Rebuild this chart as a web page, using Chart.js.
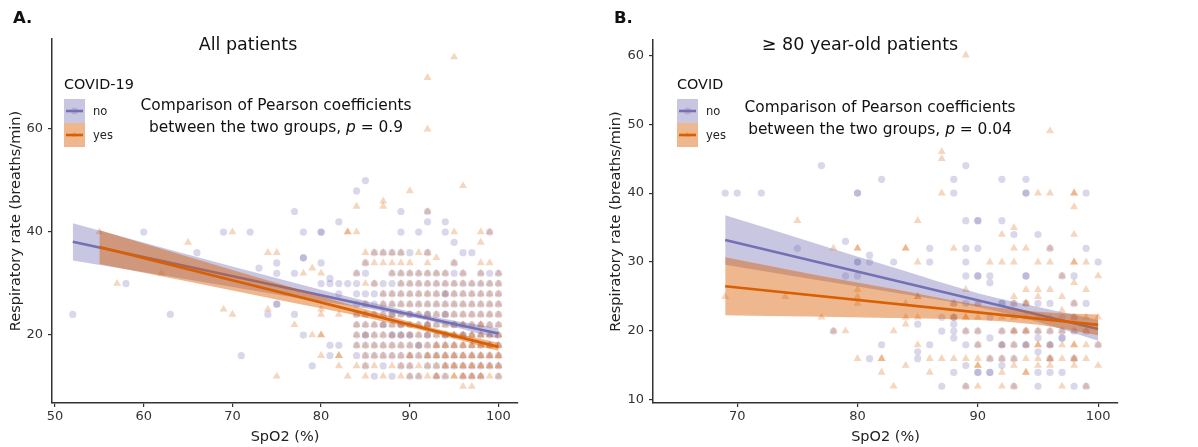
<!DOCTYPE html>
<html>
<head>
<meta charset="utf-8">
<script src="https://cdn.jsdelivr.net/npm/chart.js@4.4.1/dist/chart.umd.min.js"></script>
<style>
  html, body { margin: 0; padding: 0; background: #fff; }
  #wrap { position: relative; width: 1198px; height: 447px; }
  canvas { position: absolute; top: 0; }
  #chartA { left: 0; }
  #chartB { left: 600px; }
</style>
</head>
<body>
<div id="wrap">
  <canvas id="chartA" width="600" height="447"></canvas>
  <canvas id="chartB" width="598" height="447"></canvas>
</div>
<script>
// ---- data: [SpO2, [respiratory rates at that SpO2]] ----
const noColsA = [
  [52, [24]], [58, [30]], [60, [40]], [63, [24]], [66, [36]], [69, [40]], [71, [16]],
  [72, [40]], [73, [33]], [74, [24]], [75, [26, 26, 32, 34]], [77, [24, 32, 44]],
  [78, [20, 35, 35, 40]], [79, [14]], [80, [30, 34, 40, 40]], [81, [16, 18, 30, 31]],
  [82, [18, 28, 30, 42]], [83, [30]],
  [84, [16, 18, 20, 22, 24, 26, 28, 30, 32, 48]],
  [85, [14, 16, 18, 20, 20, 22, 24, 26, 28, 32, 34, 50]],
  [86, [12, 16, 18, 20, 22, 24, 26, 28, 30, 36]],
  [87, [14, 16, 18, 20, 22, 22, 24, 26, 28, 30, 36]],
  [88, [12, 16, 18, 20, 20, 22, 24, 24, 26, 28, 30, 32, 36]],
  [89, [14, 16, 18, 20, 20, 22, 22, 24, 26, 28, 30, 32, 36, 40, 44]],
  [90, [12, 14, 16, 18, 20, 20, 22, 24, 24, 26, 28, 30, 32, 36]],
  [91, [12, 16, 18, 18, 20, 22, 24, 26, 28, 30, 32, 40]],
  [92, [14, 16, 18, 20, 20, 22, 22, 24, 24, 26, 28, 30, 32, 36, 42, 44]],
  [93, [12, 14, 16, 18, 20, 22, 24, 26, 28, 30, 32]],
  [94, [12, 14, 16, 18, 20, 20, 22, 24, 24, 26, 28, 28, 30, 32, 40, 42]],
  [95, [14, 16, 18, 20, 22, 22, 24, 26, 28, 30, 32, 34, 38]],
  [96, [12, 14, 16, 18, 20, 20, 22, 24, 26, 28, 30, 32, 36]],
  [97, [12, 14, 16, 18, 20, 22, 24, 26, 28, 30, 36]],
  [98, [12, 14, 16, 18, 20, 22, 24, 26, 28, 30, 32]],
  [99, [14, 16, 18, 20, 22, 24, 26, 28, 30, 32, 40]],
  [100, [12, 14, 16, 18, 20, 22, 24, 26, 28, 30, 32]]
];
const yesColsA = [
  [55, [40]], [57, [30]], [62, [32]], [65, [38]], [69, [25]], [70, [24, 40]],
  [74, [25, 36]], [75, [12, 36]], [77, [22]], [78, [32]], [79, [20, 33]],
  [80, [16, 20, 20, 24, 25, 32]], [82, [14, 16, 16, 24]], [83, [12, 40, 40]],
  [84, [14, 18, 20, 22, 24, 32, 40, 45]],
  [85, [12, 14, 16, 18, 20, 22, 24, 26, 30, 34, 36]],
  [86, [14, 16, 18, 20, 22, 24, 30, 34, 36]],
  [87, [12, 16, 18, 20, 22, 24, 26, 28, 34, 36, 45, 46]],
  [88, [14, 16, 18, 20, 22, 24, 26, 28, 32, 34, 36]],
  [89, [12, 14, 16, 18, 20, 22, 24, 26, 28, 30, 32, 34, 36]],
  [90, [12, 14, 16, 16, 18, 20, 22, 24, 26, 28, 30, 32, 34, 48]],
  [91, [12, 14, 16, 18, 20, 22, 24, 26, 28, 30, 32, 36]],
  [92, [12, 14, 16, 16, 18, 20, 22, 22, 24, 26, 28, 30, 32, 34, 36, 44, 60, 70]],
  [93, [12, 12, 14, 16, 16, 18, 18, 20, 22, 24, 26, 28, 30, 32, 35]],
  [94, [12, 14, 14, 16, 16, 18, 18, 20, 20, 22, 24, 26, 28, 30, 32]],
  [95, [12, 12, 14, 14, 16, 16, 18, 18, 20, 20, 22, 24, 26, 28, 30, 34, 40, 74]],
  [96, [10, 12, 12, 14, 14, 16, 16, 18, 18, 20, 20, 22, 22, 24, 26, 28, 30, 32, 49]],
  [97, [10, 12, 12, 14, 14, 16, 16, 18, 18, 20, 20, 22, 24, 26, 28, 30]],
  [98, [12, 12, 14, 14, 16, 16, 18, 18, 20, 20, 22, 22, 24, 26, 28, 30, 32, 34, 38, 40]],
  [99, [12, 14, 14, 16, 16, 18, 18, 20, 20, 22, 24, 26, 28, 30, 34, 40]],
  [100, [12, 14, 14, 16, 16, 18, 18, 20, 20, 22, 24, 26, 28, 30, 32]]
];
const noColsB = [
  [69, [40]], [70, [40]], [72, [40]], [75, [32]], [77, [44]], [78, [20]], [79, [28, 33]],
  [80, [28, 30, 30, 40, 40]], [81, [16, 30, 31]], [82, [18, 42]], [83, [30]],
  [85, [16, 17, 21]], [86, [18, 30, 32]], [87, [12, 20, 22]],
  [88, [14, 19, 20, 21, 22, 22, 24, 40, 42]],
  [89, [12, 15, 18, 20, 24, 28, 30, 32, 36, 44]],
  [90, [14, 14, 18, 20, 24, 28, 28, 32, 36, 36]],
  [91, [14, 14, 16, 19, 22, 27, 28]],
  [92, [15, 16, 18, 18, 20, 24, 24, 36, 42]],
  [93, [12, 16, 18, 20, 24, 34]],
  [94, [18, 18, 20, 24, 28, 28, 40, 40, 42]],
  [95, [12, 14, 17, 19, 20, 24, 34]],
  [96, [14, 16, 18, 18, 20, 24, 32]],
  [97, [14, 19, 19, 20, 22, 28]],
  [98, [12, 16, 20, 22, 24, 28]],
  [99, [12, 20, 24, 32, 40]],
  [100, [18, 30]]
];
const yesColsB = [
  [69, [25]], [74, [25]], [75, [36]], [77, [22]], [78, [20, 32]], [79, [20]],
  [80, [16, 24, 25, 26, 32, 32]], [82, [14, 16, 16]], [83, [12, 20]],
  [84, [15, 21, 22, 24, 32, 32]], [85, [18, 22, 25, 25, 30, 36]], [86, [14, 16]],
  [87, [16, 40, 45, 46]], [88, [16, 22, 24, 32]], [89, [12, 16, 20, 22, 22, 26, 60]],
  [90, [12, 15, 15, 16, 18, 20, 22, 24]], [91, [16, 30]],
  [92, [12, 14, 16, 18, 20, 22, 30, 34]],
  [93, [12, 15, 16, 18, 20, 20, 22, 24, 25, 30, 32, 35]],
  [94, [14, 14, 16, 18, 20, 20, 22, 24, 24, 26, 32]],
  [95, [15, 16, 18, 18, 20, 22, 25, 26, 30, 40]],
  [96, [15, 16, 16, 18, 20, 22, 26, 30, 32, 40, 49]],
  [97, [12, 16, 18, 20, 23, 25, 28]],
  [98, [15, 16, 16, 18, 18, 20, 22, 24, 27, 30, 30, 34, 38, 40, 40]],
  [99, [12, 16, 18, 20, 22, 26, 30]],
  [100, [15, 18, 22, 28]]
];

// fitted lines (start, end) and confidence bands
const fitNoA = [[52, 38.1], [100, 20.3]];
const fitYesA = [[55, 37.1], [100, 17.7]];
const bandXNoA = [52, 64, 76, 85, 92, 100];
const bandUpNoA = [41.7, 36.1, 30.6, 26.6, 23.8, 21.3];
const bandLoNoA = [34.5, 31.1, 27.6, 25.2, 22.8, 19.3];
const bandXYesA = [55, 65, 75, 85, 93, 100];
const bandUpYesA = [40.4, 35.2, 30.1, 25.0, 21.2, 18.5];
const bandLoYesA = [33.8, 30.4, 26.9, 23.4, 20.2, 16.9];

const fitNoB = [[69, 33.2], [100, 20.3]];
const fitYesB = [[69, 26.5], [100, 20.9]];
const bandXB = [69, 76, 83, 90, 95, 100];
const bandUpNoB = [36.8, 33.0, 29.2, 25.5, 23.5, 21.6];
const bandLoNoB = [29.6, 27.6, 25.6, 23.5, 21.3, 18.6];
const bandUpYesB = [30.7, 28.3, 26.1, 23.8, 22.8, 22.4];
const bandLoYesB = [22.3, 22.1, 21.9, 21.6, 20.9, 19.4];

const xTicksA = [50, 60, 70, 80, 90, 100];
const yTicksA = [20, 40, 60];
const xTicksB = [70, 80, 90, 100];
const yTicksB = [10, 20, 30, 40, 50, 60];

const PURPLE = '#7570B3';
const ORANGE = '#D95F02';
const PURPLE_BAND = 'rgba(117,112,179,0.4)';
const ORANGE_BAND = 'rgba(217,95,2,0.45)';
const PURPLE_PT = 'rgba(117,112,179,0.28)';
const ORANGE_PT = 'rgba(217,95,2,0.26)';
const FONT = '"DejaVu Sans", "Liberation Sans", sans-serif';

Chart.defaults.font.family = FONT;

const toPoints = cols => cols.flatMap(([x, ys]) => ys.map(y => ({ x, y })));
const zip = (xs, ys) => xs.map((x, i) => ({ x, y: ys[i] }));
const pairs = arr => arr.map(([x, y]) => ({ x, y }));

function drawAnnotation(ctx, cx, y1, y2, pval) {
    ctx.textAlign = 'left';
    const f = '15.4px ' + FONT;
    const fi = 'italic 15.4px ' + FONT;
    ctx.font = f;
    const l1 = 'Comparison of Pearson coefficients';
    ctx.fillText(l1, cx - ctx.measureText(l1).width / 2, y1);
    const a = 'between the two groups, ';
    const b = ' = ' + pval;
    const wa = ctx.measureText(a).width;
    const wb = ctx.measureText(b).width;
    ctx.font = fi;
    const wp = ctx.measureText('p').width;
    let x = cx - (wa + wp + wb) / 2;
    ctx.font = f;
    ctx.fillText(a, x, y2);
    ctx.font = fi;
    ctx.fillText('p', x + wa, y2);
    ctx.font = f;
    ctx.fillText(b, x + wa + wp, y2);
}

const overlay = {
    id: 'overlay',
    afterDraw(chart, args, o) {
        const ctx = chart.ctx;
        ctx.save();
        ctx.fillStyle = '#111';
        ctx.textBaseline = 'middle';
        ctx.textAlign = 'left';
        ctx.font = 'bold 16.5px ' + FONT;
        ctx.fillText(o.tag, o.tagX, 19);
        ctx.textAlign = 'center';
        ctx.font = '17.5px ' + FONT;
        ctx.fillText(o.title, o.titleX, 45);

        // legend
        const lx = o.legendX;
        ctx.textAlign = 'left';
        ctx.font = '14.4px ' + FONT;
        ctx.fillText(o.legendTitle, lx, 85);
        const keys = [
            { y: 99, band: PURPLE_BAND, line: PURPLE, pt: PURPLE_PT, label: 'no', shape: 'circle' },
            { y: 123, band: ORANGE_BAND, line: ORANGE, pt: ORANGE_PT, label: 'yes', shape: 'triangle' }
        ];
        keys.forEach(k => {
            ctx.fillStyle = k.band;
            ctx.fillRect(lx, k.y, 21, 24);
            ctx.fillStyle = k.pt;
            Chart.helpers.drawPoint(ctx, { pointStyle: k.shape, radius: 3.5, borderWidth: 0 }, lx + 10.5, k.y + 12);
            ctx.strokeStyle = k.line;
            ctx.lineWidth = 2.6;
            ctx.beginPath();
            ctx.moveTo(lx + 2, k.y + 12);
            ctx.lineTo(lx + 19, k.y + 12);
            ctx.stroke();
            ctx.fillStyle = '#222';
            ctx.font = '11.5px ' + FONT;
            ctx.fillText(k.label, lx + 29, k.y + 13);
        });

        ctx.fillStyle = '#111';
        drawAnnotation(ctx, o.annX, o.annY, o.annY + 22, o.p);
        ctx.restore();
    }
};

function scaleOpts(axis, min, max, ticks, title, fit) {
    return {
        type: 'linear',
        min: min,
        max: max,
        afterBuildTicks: s => { s.ticks = ticks.map(v => ({ value: v })); },
        afterFit: fit,
        grid: { drawOnChartArea: false, drawTicks: true, tickLength: 4, color: '#333', lineWidth: 1.2 },
        border: { display: true, color: '#333', width: 1.5 },
        ticks: { color: '#333', font: { size: 13 }, padding: axis === 'y' ? 5 : 2, maxRotation: 0 },
        title: {
            display: true, text: title, color: '#222', font: { size: 14.5 },
            padding: axis === 'y' ? { top: 8, bottom: 0 } : { top: 0, bottom: 0 }
        }
    };
}

function makePanel(canvas, p) {
    const datasets = [
        { data: toPoints(p.no), showLine: false, pointStyle: 'circle', pointRadius: 3.6,
          pointBackgroundColor: PURPLE_PT, pointBorderWidth: 0, borderWidth: 0, order: 10 },
        { data: toPoints(p.yes), showLine: false, pointStyle: 'triangle', pointRadius: 4.6,
          pointBackgroundColor: ORANGE_PT, pointBorderWidth: 0, borderWidth: 0, order: 9 },
        { data: zip(p.bandXNo, p.bandUpNo), fill: '+1', backgroundColor: PURPLE_BAND,
          borderWidth: 0, pointRadius: 0, cubicInterpolationMode: 'monotone', order: 6 },
        { data: zip(p.bandXNo, p.bandLoNo), fill: false, borderWidth: 0, pointRadius: 0,
          cubicInterpolationMode: 'monotone', order: 6 },
        { data: pairs(p.fitNo), borderColor: PURPLE, borderWidth: 2.6, pointRadius: 0, fill: false, order: 5 },
        { data: zip(p.bandXYes, p.bandUpYes), fill: '+1', backgroundColor: ORANGE_BAND,
          borderWidth: 0, pointRadius: 0, cubicInterpolationMode: 'monotone', order: 4 },
        { data: zip(p.bandXYes, p.bandLoYes), fill: false, borderWidth: 0, pointRadius: 0,
          cubicInterpolationMode: 'monotone', order: 4 },
        { data: pairs(p.fitYes), borderColor: ORANGE, borderWidth: 2.6, pointRadius: 0, fill: false, order: 3 }
    ];
    return new Chart(canvas, {
        type: 'line',
        data: { datasets },
        plugins: [overlay],
        options: {
            responsive: false,
            animation: false,
            events: [],
            layout: { padding: { left: 0, right: p.padRight, top: p.padTop, bottom: 1 } },
            plugins: { legend: { display: false }, tooltip: { enabled: false }, overlay: p.overlay },
            scales: {
                x: scaleOpts('x', p.xMin, p.xMax, p.xTicks, 'SpO2 (%)', s => { s.height = 43; }),
                y: scaleOpts('y', p.yMin, p.yMax, p.yTicks, 'Respiratory rate (breaths/min)', s => { s.width = p.yWidth; })
            }
        }
    });
}

makePanel(document.getElementById('chartA'), {
    no: noColsA, yes: yesColsA,
    fitNo: fitNoA, fitYes: fitYesA,
    bandXNo: bandXNoA, bandUpNo: bandUpNoA, bandLoNo: bandLoNoA,
    bandXYes: bandXYesA, bandUpYes: bandUpYesA, bandLoYes: bandLoYesA,
    xMin: 49.66, xMax: 102.2, yMin: 6.8, yMax: 77.5,
    xTicks: xTicksA, yTicks: yTicksA,
    padRight: 82, padTop: 39, yWidth: 52,
    overlay: { tag: 'A.', tagX: 13, title: 'All patients', titleX: 248, legendTitle: 'COVID-19',
               legendX: 64, annX: 276, annY: 106, p: '0.9' }
});

makePanel(document.getElementById('chartB'), {
    no: noColsB, yes: yesColsB,
    fitNo: fitNoB, fitYes: fitYesB,
    bandXNo: bandXB, bandUpNo: bandUpNoB, bandLoNo: bandLoNoB,
    bandXYes: bandXB, bandUpYes: bandUpYesB, bandLoYes: bandLoYesB,
    xMin: 63.0, xMax: 101.65, yMin: 9.57, yMax: 62.2,
    xTicks: xTicksB, yTicks: yTicksB,
    padRight: 80, padTop: 40, yWidth: 53,
    overlay: { tag: 'B.', tagX: 14, title: '\u2265 80 year-old patients', titleX: 260, legendTitle: 'COVID',
               legendX: 77, annX: 280, annY: 108, p: '0.04' }
});
</script>
</body>
</html>
